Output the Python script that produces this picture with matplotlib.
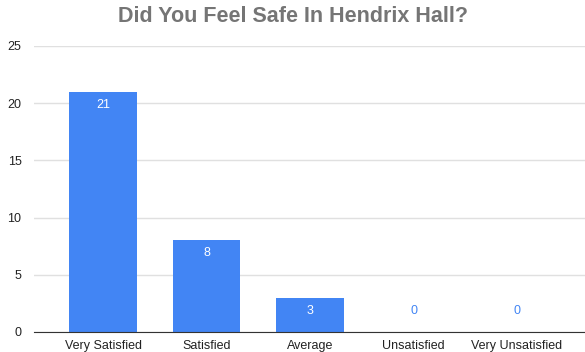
import numpy as np
import matplotlib.pyplot as plt

categories = ['Very Satisfied', 'Satisfied', 'Average', 'Unsatisfied', 'Very Unsatisfied']
counts = [21, 8, 3, 0, 0]
yticks = [0, 5, 10, 15, 20, 25]

plt.rcParams['font.family'] = ['Liberation Sans', 'DejaVu Sans']

fig = plt.figure(figsize=(5.85, 3.52), dpi=100)
ax = fig.add_axes([34/585, 1 - 332/352, 1 - 34/585, (332 - 46)/352])

x = np.arange(len(categories))
bars = ax.bar(x, counts, width=0.65, color='#4285f4', zorder=3)

# value labels: inside the bar when there is room, above the baseline otherwise
for xi, v in zip(x, counts):
    if v > 0:
        ax.annotate(str(v), (xi, v), xytext=(0, -5), textcoords='offset points',
                    ha='center', va='top', color='white', fontsize=9)
    else:
        ax.annotate(str(v), (xi, v), xytext=(0, 11), textcoords='offset points',
                    ha='center', va='bottom', color='#4285f4', fontsize=9)

ax.set_xlim(-0.667, 4.657)
ax.set_ylim(0, 25)
ax.set_yticks(yticks)
ax.set_xticks(x)
ax.set_xticklabels(categories)
ax.tick_params(axis='both', length=0, labelsize=9, colors='#222222')
ax.tick_params(axis='y', pad=9)
ax.tick_params(axis='x', pad=6)
ax.grid(axis='y', color='#e0e0e0', linewidth=1, zorder=0)
for s in ['top', 'right', 'left']:
    ax.spines[s].set_visible(False)
ax.spines['bottom'].set_color('#333333')
ax.spines['bottom'].set_zorder(4)

fig.text(0.5, 1 - 17/352, 'Did You Feel Safe In Hendrix Hall?', ha='center', va='center',
         fontsize=15.5, fontweight='bold', color='#757575')

plt.savefig('out.png', dpi=100)
